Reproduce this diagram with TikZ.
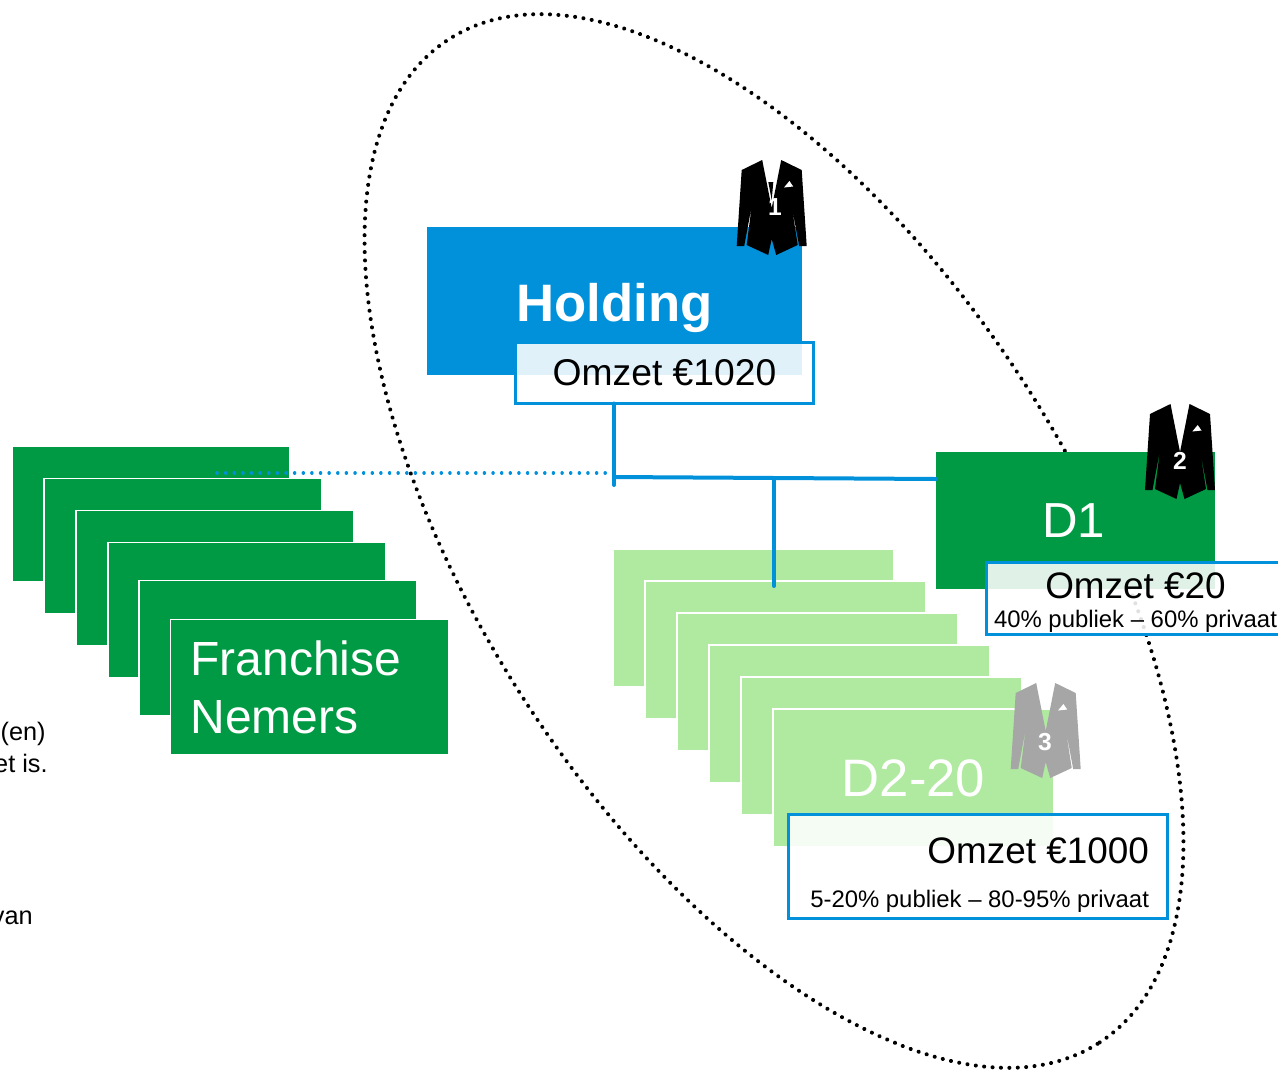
\documentclass[tikz,border=0pt]{standalone}
\usepackage{fontspec}
\setmainfont{Liberation Sans}
\usepackage{xcolor}
\usetikzlibrary{positioning}
\definecolor{holdingblue}{RGB}{0,145,218}
\definecolor{firmgreen}{RGB}{0,154,68}
\definecolor{lightgreen}{RGB}{176,233,160}
\definecolor{jacketgray}{RGB}{166,166,166}
\tikzset{
    firm/.style={fill=#1, inner sep=0pt, outer sep=0pt, text=white},
    franchise/.style={firm=firmgreen, draw=white, line width=0.03cm, minimum width=5.56cm, minimum height=2.7cm},
    subsidiary/.style={firm=lightgreen, draw=white, line width=0.03cm, minimum width=5.62cm, minimum height=2.76cm},
    omzetbox/.style={draw=holdingblue, line width=0.06cm, fill=white, fill opacity=0.88, text opacity=1, text=black, inner sep=0pt, outer sep=0pt},
    link/.style={draw=holdingblue, line width=0.08cm, line cap=round},
    sidetext/.style={anchor=east, inner sep=0pt, font=\fontsize{14.4}{17}\selectfont},
    badge/.style={text=white, inner sep=0pt, font=\fontsize{14}{16}\selectfont\bfseries}
}
\begin{document}
\begin{tikzpicture}[x=0.02cm, y=-0.02cm]
    \path[use as bounding box, clip] (0,0) rectangle (1278,1069);

    % Dotted boundary
    \draw[line width=2.3pt, line cap=round, dash pattern=on 0.01pt off 4.78pt]
        (774,541) ellipse [x radius=11.96cm, y radius=5.92cm, rotate=-57];

    % Left side text
    \node[sidetext] (sideA) at (46,733.5) {(en)};
    \node[sidetext] (sideB) at (48,763) {et is.};
    \node[sidetext] (sideC) at (33,918) {van};

    % Franchise stack
    \foreach \fname/\fx/\fy in {frA/151/514, frB/183/546, frC/215/578, frD/247/610, frE/278/648}
        \node[franchise] (\fname) at (\fx,\fy) {};
    \node[franchise, text width=4.76cm, inner xsep=0.4cm, align=left, font=\fontsize{27.3}{33}\selectfont] (frF) at (309.5,687) {Franchise\\Nemers};

    % Holding
    \node[firm=holdingblue, minimum width=7.5cm, minimum height=2.96cm, text height=23.1pt, text depth=0pt, font=\fontsize{30}{36}\selectfont\bfseries] (holding) at (614.5,301) {Holding};
    \node[omzetbox, minimum width=5.98cm, minimum height=1.22cm, font=\fontsize{21.2}{25}\selectfont] (omzetH) at (664.5,373) {Omzet €1020};

    % Subsidiary stack
    \foreach \sname/\sx/\sy in {subA/753.5/618, subB/785.5/650, subC/817.5/682, subD/849.5/714, subE/881.5/746}
        \node[subsidiary] (\sname) at (\sx,\sy) {};
    \node[subsidiary, font=\fontsize{30}{36}\selectfont] (subF) at (913.5,778) {D2-20};
    \node[omzetbox, minimum width=7.6cm, minimum height=2.08cm, text width=6.84cm, align=flush right, inner xsep=0.38cm, font=\fontsize{21}{25.6}\selectfont] (omzetS) at (978,866)
        {\rule{0pt}{25pt}Omzet €1000\\\makebox[\linewidth][r]{\fontsize{13.6}{16}\selectfont 5-20\% publiek – 80-95\% privaat}};

    % D1
    \node[firm=firmgreen, minimum width=5.58cm, minimum height=2.74cm, font=\fontsize{28}{33}\selectfont] (dOne) at (1075.5,520.5) {\kern-2.2pt D1};
    \node[omzetbox, minimum width=5.98cm, minimum height=1.44cm, align=center, font=\fontsize{21}{16.5}\selectfont] (omzetD) at (1135.5,598)
        {\rule{0pt}{19.4pt}Omzet €20\\{\fontsize{13.6}{16.5}\selectfont 40\% publiek – 60\% privaat}};

    % Connectors
    \coordinate (hub) at (614,477);
    \coordinate (hubEnd) at (614,485);
    \coordinate (branch) at (774,478);
    \coordinate (branchEnd) at (774,586);
    \coordinate (dOneIn) at (936,479);
    \coordinate (frIn) at (217,473);
    \coordinate (frOut) at (614,473);
    \draw[link] (omzetH.south -| hub) -- (hubEnd);
    \draw[link] (hub) -- (dOneIn);
    \draw[link] (branch) -- (branchEnd);
    \draw[draw=holdingblue, line width=2pt, line cap=round, dash pattern=on 0.01pt off 4.9pt] (frIn) -- (frOut);

    % Jackets
    \foreach \jx/\jy/\jcol/\jnum/\jnx/\jny in {771.7/160/black/1/775/207, 1180/404/black/2/1180/461, 1045.7/683/jacketgray/3/1045/742} {
        \begin{scope}[shift={(\jx,\jy)}]
            \fill[\jcol] (-9.5,0) -- (-30,10) -- (-35,86) -- (-27.5,86) -- (-20,46) -- (-25,85) -- (-3.5,95)
                -- (0,79) -- (4.5,95) -- (26,85) -- (20,46) -- (27.5,86) -- (35,86) -- (30,10) -- (9.5,0)
                -- (0,48) -- cycle;
            \fill[white] (12.3,27.5) -- (17.7,21) -- (21.5,26.5) -- cycle;
        \end{scope}
        \node[badge] (badge\jnum) at (\jnx,\jny) {\jnum};
    }
    \fill[black] (768.3,182) -- (773.3,182) -- (771.7,200) -- cycle;
\end{tikzpicture}
\end{document}
